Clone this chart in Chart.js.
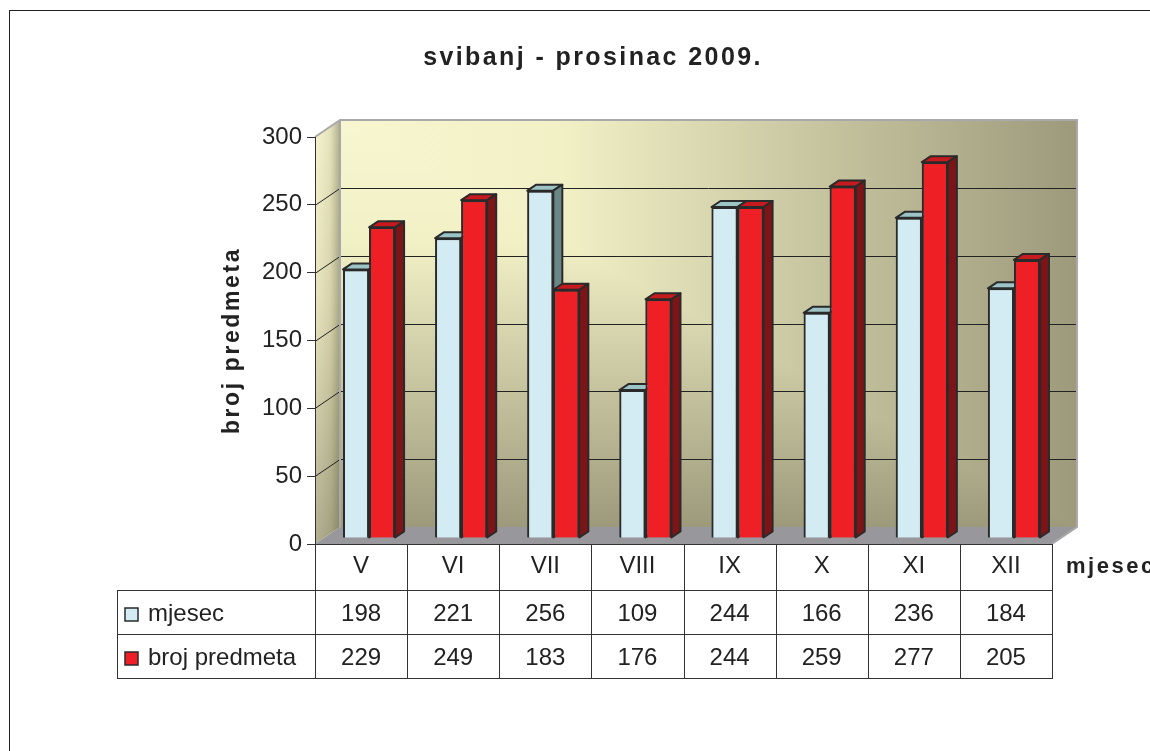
<!DOCTYPE html>
<html>
<head>
<meta charset="utf-8">
<title>svibanj - prosinac 2009.</title>
<script src="https://cdn.jsdelivr.net/npm/chart.js@4.4.1/dist/chart.umd.min.js"></script>
<style>
  html, body { margin: 0; padding: 0; background: #fff; }
  #wrap { width: 1150px; height: 751px; }
</style>
</head>
<body>
<div id="wrap"><canvas id="chart" width="1150" height="751"></canvas></div>
<script>
const months = ['V', 'VI', 'VII', 'VIII', 'IX', 'X', 'XI', 'XII'];
const mjesecValues = [198, 221, 256, 109, 244, 166, 236, 184];
const predmetaValues = [229, 249, 183, 176, 244, 259, 277, 205];
const seriesNames = ['mjesec', 'broj predmeta'];
const yTicks = [0, 50, 100, 150, 200, 250, 300];
const chartTitle = 'svibanj - prosinac 2009.';
const yTitle = 'broj predmeta';
const xTitle = 'mjesec';

const FONT = '"Liberation Sans", Arial, sans-serif';
const INK = '#222';
const LINE = '#2a2a2a';

// 3D look: wall depth, bar shift into the box and bar depth
const WALL_DX = 25;
const WALL_DY = -17;
const BAR_SHIFT_X = 8;
const BAR_SHIFT_Y = -6;
const BAR_DX = 9;
const BAR_DY = -6;

const frontColors = ['#d3ebf3', '#ee2026'];
const faceColors = [
  { top: '#9cc3c5', side: '#6a8787' },
  { top: '#c71a1f', side: '#7d1418' },
];

const poly = (ctx, pts, fill, stroke, lw) => {
  ctx.beginPath();
  ctx.moveTo(pts[0][0], pts[0][1]);
  for (let i = 1; i < pts.length; i += 1) ctx.lineTo(pts[i][0], pts[i][1]);
  ctx.closePath();
  if (fill) {
    ctx.fillStyle = fill;
    ctx.fill();
  }
  if (stroke) {
    ctx.strokeStyle = stroke;
    ctx.lineWidth = lw || 1;
    ctx.stroke();
  }
};

const wallStops = (g) => {
  g.addColorStop(0, '#f8f6d0');
  g.addColorStop(0.3, '#f2f0c5');
  g.addColorStop(1, '#9c9a7b');
  return g;
};

const chart3d = {
  id: 'chart3d',
  beforeDraw(chart) {
    const { ctx, chartArea: a, scales } = chart;
    const y = scales.y;
    const L = a.left;
    const R = a.right;
    const T = y.getPixelForValue(y.max);
    const B = y.getPixelForValue(0);
    const bx = L + WALL_DX;
    const by = T + WALL_DY;

    ctx.save();
    // back wall: horizontal and vertical shading, darker of the two wins
    ctx.fillStyle = wallStops(ctx.createLinearGradient(bx, 0, bx + R - L, 0));
    ctx.fillRect(bx, by, R - L, B - T);
    ctx.globalCompositeOperation = 'darken';
    ctx.fillStyle = wallStops(ctx.createLinearGradient(0, by, 0, by + B - T));
    ctx.fillRect(bx, by, R - L, B - T);
    ctx.globalCompositeOperation = 'source-over';

    // left wall
    const lw = ctx.createLinearGradient(0, T, 0, B);
    lw.addColorStop(0, '#f3f1c9');
    lw.addColorStop(0.4, '#e4e1b9');
    lw.addColorStop(1, '#a9a687');
    const wall = [[L, T], [bx, by], [bx, B + WALL_DY], [L, B]];
    poly(ctx, wall, lw);
    const shade = ctx.createLinearGradient(L, 0, bx, 0);
    shade.addColorStop(0, 'rgba(255,255,240,0.1)');
    shade.addColorStop(0.6, 'rgba(120,118,80,0.12)');
    shade.addColorStop(1, 'rgba(90,88,60,0.45)');
    poly(ctx, wall, shade);

    // floor
    poly(ctx, [[L, B], [bx, B + WALL_DY], [R + WALL_DX, B + WALL_DY], [R, B]], '#98989c');

    // grid on back wall and left wall
    ctx.lineWidth = 1;
    ctx.strokeStyle = INK;
    yTicks.forEach((v) => {
      if (v <= 0 || v >= y.max) return;
      const py = Math.round(y.getPixelForValue(v)) + 0.5;
      ctx.beginPath();
      ctx.moveTo(bx, py + WALL_DY);
      ctx.lineTo(R + WALL_DX, py + WALL_DY);
      ctx.moveTo(L, py);
      ctx.lineTo(bx, py + WALL_DY);
      ctx.stroke();
    });

    // light grey box edges
    ctx.strokeStyle = '#a9a9ab';
    ctx.lineWidth = 2;
    ctx.beginPath();
    ctx.moveTo(L, T);
    ctx.lineTo(bx, by);
    ctx.lineTo(R + WALL_DX, by);
    ctx.lineTo(R + WALL_DX, B + WALL_DY);
    ctx.lineTo(R, B);
    ctx.moveTo(bx, by);
    ctx.lineTo(bx, B + WALL_DY);
    ctx.stroke();
    ctx.restore();
  },
  beforeDatasetsDraw(chart) {
    chart.ctx.save();
    chart.ctx.translate(BAR_SHIFT_X, BAR_SHIFT_Y);
  },
  afterDatasetsDraw(chart) {
    const { ctx } = chart;
    // redraw left to right so each bar's front hides the neighbour's side
    chart.data.datasets.forEach((ds, di) => {
      const colors = faceColors[di];
      chart.getDatasetMeta(di).data.forEach((bar) => {
        bar.draw(ctx);
        const { x, y, base, width } = bar.getProps(['x', 'y', 'base', 'width'], true);
        const l = x - width / 2;
        const r = x + width / 2;
        ctx.save();
        ctx.lineJoin = 'round';
        poly(ctx, [[l, y], [l + BAR_DX, y + BAR_DY], [r + BAR_DX, y + BAR_DY], [r, y]], colors.top, LINE, 2);
        poly(ctx, [[r, y], [r + BAR_DX, y + BAR_DY], [r + BAR_DX, base + BAR_DY], [r, base]], colors.side, LINE, 2);
        ctx.restore();
      });
    });
    ctx.restore();
  },
  afterDraw(chart) {
    const { ctx, chartArea: a, scales } = chart;
    const xs = scales.x;
    const colW = (a.right - a.left) / months.length;
    const headTop = a.bottom;
    const headBottom = xs.bottom;
    const rowH = 44;
    const tableLeft = 117;
    const rows = [mjesecValues, predmetaValues];
    const tableBottom = headBottom + rowH * rows.length;

    ctx.save();
    // outer frame
    ctx.strokeStyle = INK;
    ctx.lineWidth = 1;
    ctx.strokeRect(9.5, 10.5, 1200, 800);

    // table grid
    ctx.strokeStyle = '#333';
    ctx.beginPath();
    for (let i = 0; i <= months.length; i += 1) {
      const px = Math.round(a.left + i * colW) + 0.5;
      ctx.moveTo(px, headTop);
      ctx.lineTo(px, tableBottom);
    }
    ctx.moveTo(a.left, headTop + 0.5);
    ctx.lineTo(a.right, headTop + 0.5);
    ctx.moveTo(tableLeft + 0.5, headBottom);
    ctx.lineTo(tableLeft + 0.5, tableBottom);
    for (let r = 0; r <= rows.length; r += 1) {
      const py = Math.round(headBottom + r * rowH) + 0.5;
      ctx.moveTo(tableLeft, py);
      ctx.lineTo(a.right + 1, py);
    }
    ctx.stroke();

    // table values and legend keys
    ctx.fillStyle = INK;
    ctx.font = `24px ${FONT}`;
    ctx.textBaseline = 'middle';
    rows.forEach((vals, r) => {
      const cy = headBottom + r * rowH + rowH / 2 + 2;
      ctx.textAlign = 'center';
      vals.forEach((v, i) => {
        ctx.fillText(String(v), xs.getPixelForValue(i), cy);
      });
      ctx.fillStyle = frontColors[r];
      ctx.fillRect(125, cy - 6, 13, 13);
      ctx.strokeStyle = LINE;
      ctx.lineWidth = 1.5;
      ctx.strokeRect(125, cy - 6, 13, 13);
      ctx.fillStyle = INK;
      ctx.textAlign = 'left';
      ctx.fillText(seriesNames[r], 148, cy);
    });

    // titles
    ctx.font = `bold 25px ${FONT}`;
    ctx.letterSpacing = '2.4px';
    ctx.textAlign = 'center';
    ctx.fillText(chartTitle, 593, 58);

    ctx.font = `bold 22px ${FONT}`;
    ctx.letterSpacing = '2.5px';
    ctx.textAlign = 'left';
    ctx.fillText(xTitle, 1066, 567);

    ctx.translate(233, (a.top + a.bottom) / 2);
    ctx.rotate(-Math.PI / 2);
    ctx.font = `bold 23px ${FONT}`;
    ctx.textAlign = 'center';
    ctx.letterSpacing = '2.6px';
    ctx.fillText(yTitle, 0, 0);
    ctx.restore();
  },
};

new Chart(document.getElementById('chart'), {
  type: 'bar',
  data: {
    labels: months,
    datasets: [
      {
        label: seriesNames[0],
        data: mjesecValues,
        backgroundColor: frontColors[0],
        borderColor: LINE,
        borderWidth: 2,
        clip: false,
      },
      {
        label: seriesNames[1],
        data: predmetaValues,
        backgroundColor: frontColors[1],
        borderColor: LINE,
        borderWidth: 2,
        clip: false,
      },
    ],
  },
  options: {
    responsive: false,
    devicePixelRatio: 1,
    animation: false,
    barPercentage: 1,
    categoryPercentage: 0.565,
    layout: { padding: { left: 216, right: 98, top: 137, bottom: 161 } },
    plugins: {
      legend: { display: false },
      tooltip: { enabled: false },
      title: { display: false },
    },
    scales: {
      x: {
        afterFit: (s) => { s.height = 46; },
        grid: { display: false, drawTicks: false },
        border: { display: true, color: '#333' },
        ticks: { color: INK, font: { family: FONT, size: 24 }, padding: 8 },
      },
      y: {
        min: 0,
        max: 300,
        afterBuildTicks: (s) => { s.ticks = yTicks.map((v) => ({ value: v })); },
        afterFit: (s) => { s.width = 99; },
        grid: { drawOnChartArea: false, drawTicks: true, tickLength: 8, color: '#333' },
        border: { display: true, color: '#333' },
        ticks: { color: INK, font: { family: FONT, size: 24 }, padding: 5 },
      },
    },
  },
  plugins: [chart3d],
});
</script>
</body>
</html>
